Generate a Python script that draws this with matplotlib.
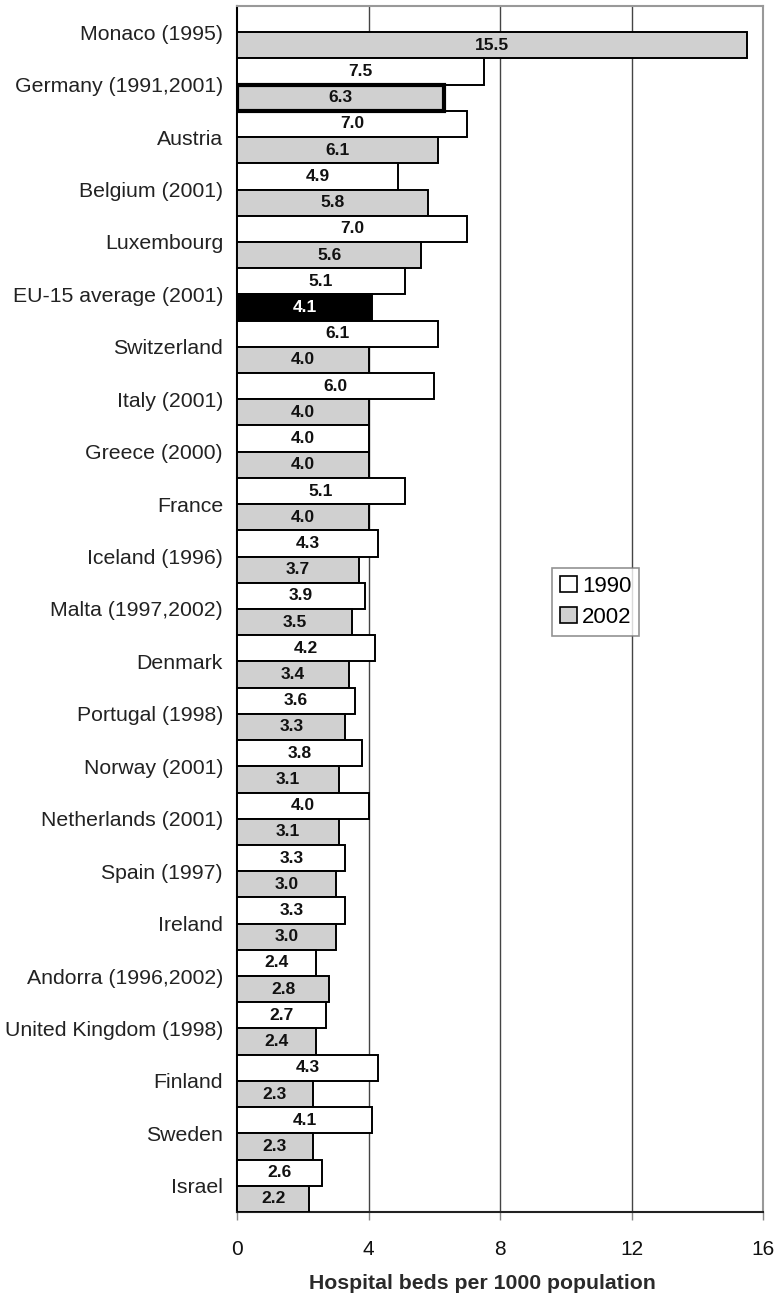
import matplotlib
matplotlib.use("Agg")
import matplotlib.pyplot as plt
from matplotlib.patches import Patch

countries = [
    "Monaco (1995)", "Germany (1991,2001)", "Austria", "Belgium (2001)",
    "Luxembourg", "EU-15 average (2001)", "Switzerland", "Italy (2001)",
    "Greece (2000)", "France", "Iceland (1996)", "Malta (1997,2002)",
    "Denmark", "Portugal (1998)", "Norway (2001)", "Netherlands (2001)",
    "Spain (1997)", "Ireland", "Andorra (1996,2002)", "United Kingdom (1998)",
    "Finland", "Sweden", "Israel",
]
beds_1990 = [None, 7.5, 7.0, 4.9, 7.0, 5.1, 6.1, 6.0, 4.0, 5.1, 4.3, 3.9,
             4.2, 3.6, 3.8, 4.0, 3.3, 3.3, 2.4, 2.7, 4.3, 4.1, 2.6]
beds_2002 = [15.5, 6.3, 6.1, 5.8, 5.6, 4.1, 4.0, 4.0, 4.0, 4.0, 3.7, 3.5,
             3.4, 3.3, 3.1, 3.1, 3.0, 3.0, 2.8, 2.4, 2.3, 2.3, 2.2]
x_ticks = [0, 4, 8, 12, 16]
x_label = "Hospital beds per 1000 population"
series_names = ["1990", "2002"]
highlight_outline = "Germany (1991,2001)"
highlight_fill = "EU-15 average (2001)"

FONT = ["Liberation Sans", "DejaVu Sans"]
plt.rcParams["font.family"] = FONT

GRAY = "#d0d0d0"
fig = plt.figure(figsize=(7.8, 12.95), dpi=100)
ax = fig.add_axes([237 / 780, 1 - 1212 / 1295, 526 / 780, 1206 / 1295])

bar_h = 0.5
for i, name in enumerate(countries):
    v90 = beds_1990[i]
    v02 = beds_2002[i]
    if v90 is not None:
        ax.barh(i - 0.25, v90, height=bar_h, color="white",
                edgecolor="black", linewidth=1.4, zorder=3)
        ax.text(v90 / 2, i - 0.25, f"{v90:.1f}", ha="center", va="center",
                fontsize=12.5, fontweight="bold", color="#111111", zorder=6)
    fill = "black" if name == highlight_fill else GRAY
    thick = name == highlight_outline
    ax.barh(i + 0.25, v02, height=bar_h, color=fill,
            edgecolor="black", linewidth=3.0 if thick else 1.4,
            zorder=4 if thick else 3)
    ax.text(v02 / 2, i + 0.25, f"{v02:.1f}", ha="center", va="center",
            fontsize=12.5, fontweight="bold",
            color="white" if name == highlight_fill else "#111111", zorder=6)

ax.set_xlim(x_ticks[0], x_ticks[-1])
ax.set_ylim(len(countries) - 0.5, -0.5)
ax.set_xticks(x_ticks)
ax.set_xticklabels([str(t) for t in x_ticks], fontsize=15, color="#111111")
ax.set_yticks(range(len(countries)))
ax.set_yticklabels(countries, fontsize=15.3, color="#222222")
ax.tick_params(axis="y", length=0, pad=10)
ax.tick_params(axis="x", length=6, width=1, color="#888888", pad=14)

for t in x_ticks[1:-1]:
    ax.axvline(t, color="#444444", linewidth=1.0, zorder=1)

ax.spines["left"].set_color("black")
ax.spines["left"].set_linewidth(1.5)
ax.spines["bottom"].set_color("#222222")
ax.spines["bottom"].set_linewidth(1.5)
ax.spines["top"].set_color("#999999")
ax.spines["top"].set_linewidth(1.5)
ax.spines["right"].set_color("#999999")
ax.spines["right"].set_linewidth(1.5)

ax.set_xlabel(x_label, fontsize=15.3, fontweight="bold", color="#2a2a2a")
ax.xaxis.set_label_coords(0.466, -0.059)
ax.xaxis.label.set_va("center")

handles = [Patch(facecolor="white", edgecolor="black", linewidth=1.2),
           Patch(facecolor=GRAY, edgecolor="black", linewidth=1.2)]
leg = ax.legend(handles, series_names, loc="upper left",
                bbox_to_anchor=(0.599, 0.534), borderaxespad=0,
                fontsize=16, frameon=True, fancybox=False,
                handlelength=0.75, handleheight=0.7, handletextpad=0.25,
                borderpad=0.35, labelspacing=0.45)
leg.get_frame().set_edgecolor("#777777")
leg.get_frame().set_linewidth(1.2)
leg.set_zorder(7)

fig.savefig("out.png", dpi=100, facecolor="white")
